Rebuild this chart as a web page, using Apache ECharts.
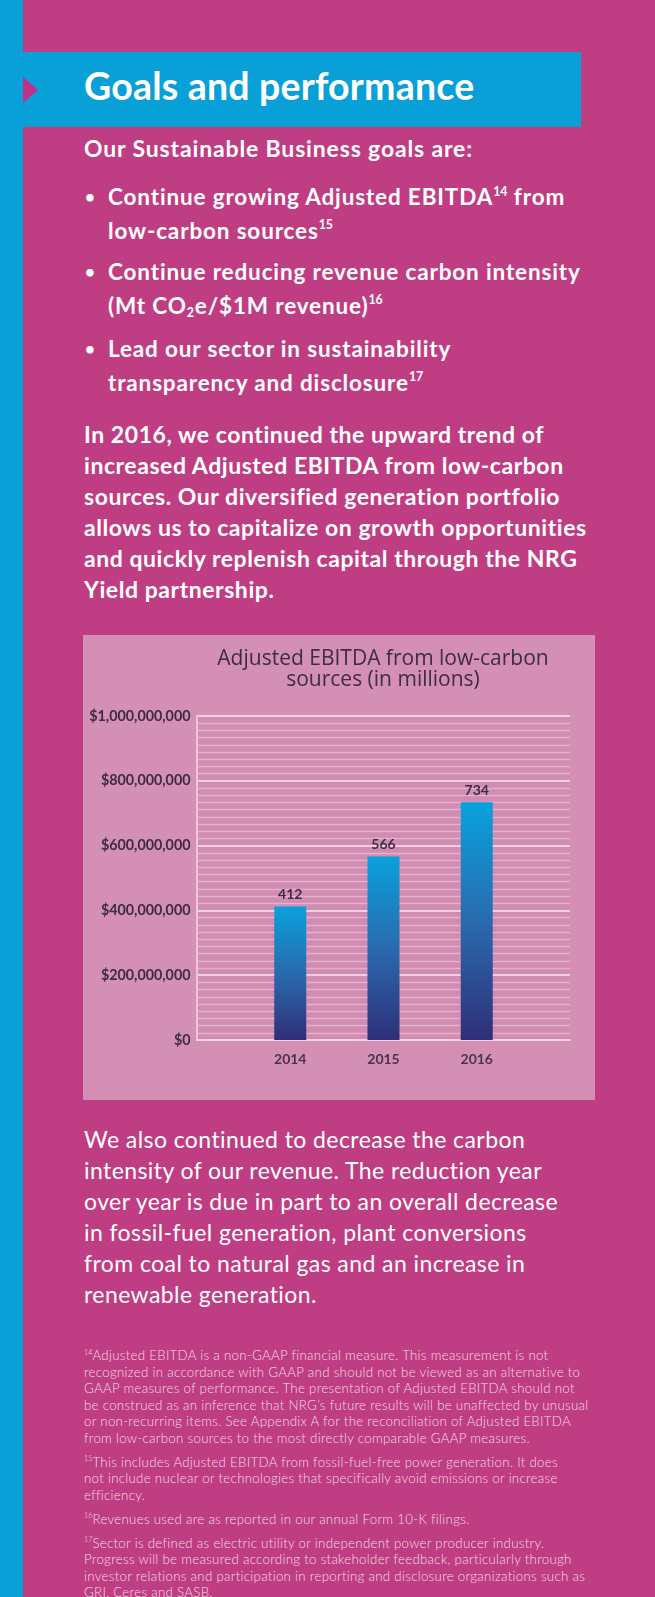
<!DOCTYPE html>
<html>
<head>
<meta charset="utf-8">
<script src="https://cdn.jsdelivr.net/npm/echarts@6/dist/echarts.min.js"></script>
<style>
  html, body { margin: 0; padding: 0; }
  body { width: 655px; height: 1597px; background: #bf3e83; position: relative; overflow: hidden; font-family: Lato, "Open Sans", sans-serif; color: #fff; }
  .strip { position: absolute; left: 0; top: 0; width: 23px; height: 1597px; background: #099fd7; }
  .band { position: absolute; left: 23px; top: 52px; width: 558px; height: 75px; background: #099fd7; }
  .tri { position: absolute; left: 23px; top: 77px; width: 0; height: 0; border-top: 13px solid transparent; border-bottom: 13px solid transparent; border-left: 15px solid #c42f86; }
  .t { position: absolute; left: 84px; white-space: nowrap; }
  .title { top: 66px; font-size: 37.5px; font-weight: 700; line-height: 40px; letter-spacing: 0.2px; }
  .sub { top: 135px; font-size: 23px; font-weight: 700; line-height: 26px; letter-spacing: 0.85px; }
  .bul { left: 108px; font-size: 22.5px; font-weight: 700; line-height: 33.5px; letter-spacing: 0.85px; }
  .bul::before { content: "\2022"; position: absolute; left: -23px; top: 0; font-size: 17px; }
  .p1 { top: 419px; font-size: 23px; font-weight: 700; line-height: 31px; letter-spacing: 0.55px; }
  .p2 { top: 1124px; font-size: 23px; font-weight: 400; line-height: 31px; letter-spacing: 0.42px; }
  .fn { top: 1347px; font-size: 13.3px; font-weight: 300; line-height: 16.5px; letter-spacing: 0.28px; color: rgba(255,255,255,0.82); }
  .fn p { margin: 0 0 7.5px 0; }
  sup { font-size: 0.55em; vertical-align: 0; position: relative; top: -0.75em; line-height: 0; letter-spacing: 0; }
  sub { font-size: 0.55em; vertical-align: 0; position: relative; top: 0.3em; line-height: 0; }
  #chart { position: absolute; left: 83px; top: 635px; width: 512px; height: 465px; }
</style>
</head>
<body>
<div class="strip"></div>
<div class="band"></div>
<div class="tri"></div>
<div class="t title">Goals and performance</div>
<div class="t sub">Our Sustainable Business goals are:</div>
<div class="t bul" style="top:180px">Continue growing Adjusted EBITDA<sup>14</sup> from<br>low-carbon sources<sup>15</sup></div>
<div class="t bul" style="top:255px">Continue reducing revenue carbon intensity<br>(Mt CO<sub>2</sub>e/$1M revenue)<sup>16</sup></div>
<div class="t bul" style="top:332px">Lead our sector in sustainability<br>transparency and disclosure<sup>17</sup></div>
<div class="t p1">In 2016, we continued the upward trend of<br>increased Adjusted EBITDA from low-carbon<br>sources. Our diversified generation portfolio<br>allows us to capitalize on growth opportunities<br>and quickly replenish capital through the NRG<br>Yield partnership.</div>
<div id="chart"></div>
<div class="t p2">We also continued to decrease the carbon<br>intensity of our revenue. The reduction year<br>over year is due in part to an overall decrease<br>in fossil-fuel generation, plant conversions<br>from coal to natural gas and an increase in<br>renewable generation.</div>
<div class="t fn">
<p><sup>14</sup>Adjusted EBITDA is a non-GAAP financial measure. This measurement is not<br>recognized in accordance with GAAP and should not be viewed as an alternative to<br>GAAP measures of performance. The presentation of Adjusted EBITDA should not<br>be construed as an inference that NRG’s future results will be unaffected by unusual<br>or non-recurring items. See Appendix A for the reconciliation of Adjusted EBITDA<br>from low-carbon sources to the most directly comparable GAAP measures.</p>
<p><sup>15</sup>This includes Adjusted EBITDA from fossil-fuel-free power generation. It does<br>not include nuclear or technologies that specifically avoid emissions or increase<br>efficiency.</p>
<p><sup>16</sup>Revenues used are as reported in our annual Form 10-K filings.</p>
<p><sup>17</sup>Sector is defined as electric utility or independent power producer industry.<br>Progress will be measured according to stakeholder feedback, particularly through<br>investor relations and participation in reporting and disclosure organizations such as<br>GRI, Ceres and SASB.</p>
</div>
<script>
// Data (values in millions of dollars)
var years = ['2014', '2015', '2016'];
var ebitda = [412, 566, 734];
var yTickValues = [0, 200, 400, 600, 800, 1000];
var yTickLabels = ['$0', '$200,000,000', '$400,000,000', '$600,000,000', '$800,000,000', '$1,000,000,000'];

var cats = [''].concat(years, ['']);
var seriesData = [null].concat(ebitda, [null]);

var chart = echarts.init(document.getElementById('chart'));
chart.setOption({
  backgroundColor: '#d48fb5',
  animation: false,
  title: {
    text: 'Adjusted EBITDA from low-carbon\nsources (in millions)',
    left: 295,
    top: 9,
    textAlign: 'center',
    textStyle: { fontFamily: 'Open Sans', fontSize: 21, fontWeight: 'normal', color: '#3d2c44', lineHeight: 21 }
  },
  grid: { left: 114, right: 25, top: 81, bottom: 60, show: true, backgroundColor: '#d08cb1', borderWidth: 0 },
  xAxis: {
    type: 'category',
    data: cats,
    boundaryGap: false,
    axisLine: { show: true, lineStyle: { color: '#f1d3e4', width: 2 } },
    axisTick: { show: false },
    axisLabel: { margin: 12, fontFamily: 'Lato', fontWeight: 700, fontSize: 14, color: '#4a3350' },
    splitLine: { show: false }
  },
  yAxis: {
    type: 'value',
    min: 0,
    max: 1000,
    interval: 200,
    axisLine: { show: true, lineStyle: { color: '#ecc6dc', width: 2 } },
    axisTick: { show: false },
    axisLabel: {
      margin: 6.5,
      fontFamily: 'Lato', fontWeight: 700, fontSize: 14.3, color: '#3d2c44',
      formatter: function (v) { var i = yTickValues.indexOf(v); return i >= 0 ? yTickLabels[i] : ''; }
    },
    splitLine: { show: true, lineStyle: { color: '#f0cfe2', width: 2 } },
    minorTick: { show: false, splitNumber: 9 },
    minorSplitLine: { show: true, lineStyle: { color: '#e6b1cf', width: 1.3 } }
  },
  series: [{
    type: 'bar',
    data: seriesData,
    barWidth: 32,
    itemStyle: {
      color: new echarts.graphic.LinearGradient(0, 0, 0, 1, [
        { offset: 0, color: '#08a1dc' },
        { offset: 0.5, color: '#2a6aae' },
        { offset: 1, color: '#2e2f78' }
      ])
    },
    label: { show: true, position: 'top', distance: 5, fontFamily: 'Lato', fontWeight: 700, fontSize: 14, color: '#3d2c44' }
  }]
});
</script>
</body>
</html>
